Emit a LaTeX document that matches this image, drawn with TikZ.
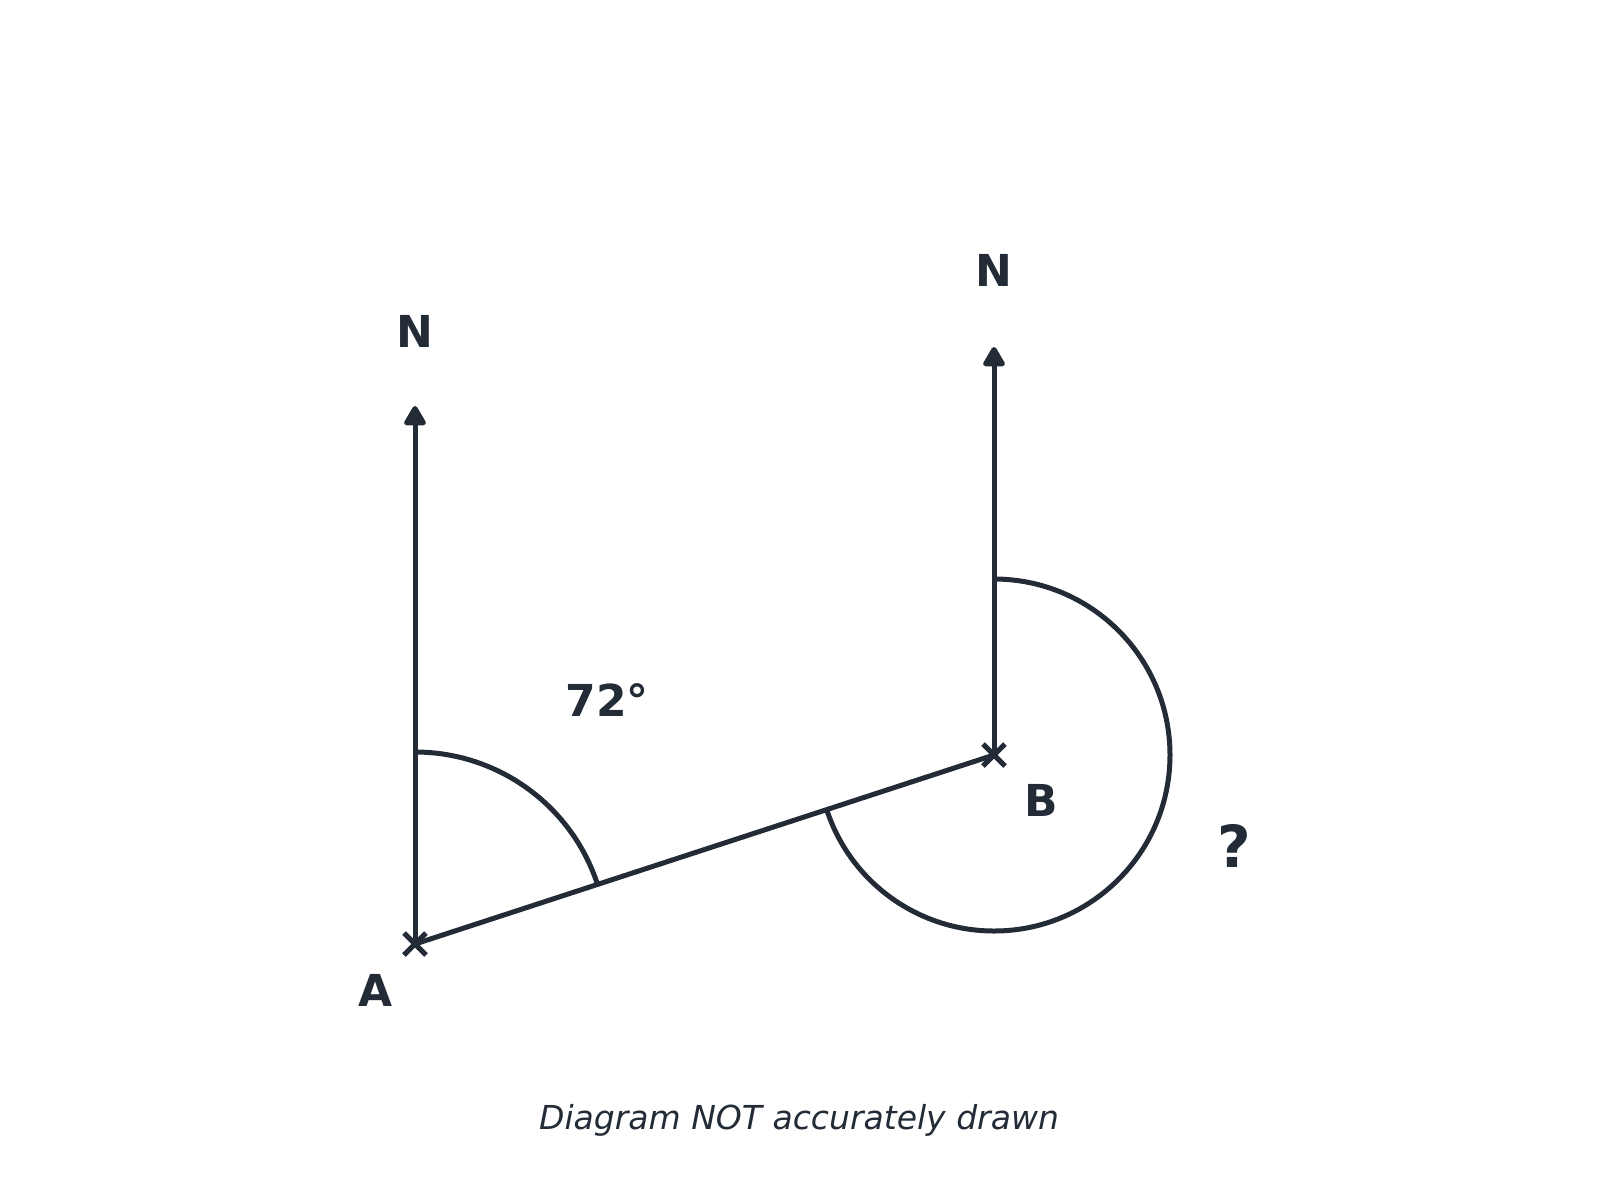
\documentclass[tikz,border=0pt]{standalone}
\usepackage{fontspec}
\setmainfont{DejaVu Sans}
\usetikzlibrary{arrows.meta,calc}
\definecolor{ink}{RGB}{34,43,54}
\begin{document}
\begin{tikzpicture}[x=0.5pt,y=-0.5pt,
  line/.style={draw=ink,line width=2.5pt},
  northarrow/.style={line,-{Triangle[length=11pt,width=12pt,round]}},
  lbl/.style={text=ink,font=\bfseries\fontsize{22}{26}\selectfont,inner sep=0pt},
  cross/.style={line,line cap=butt}]
\useasboundingbox (0,0) rectangle (1600,1200);
\coordinate (A) at (415,944);
\coordinate (B) at (994,755);
\coordinate (NA) at (415,406);
\coordinate (NB) at (994,347);
% north lines
\draw[northarrow] (A) -- (NA);
\draw[northarrow] (B) -- (NB);
% bearing line
\draw[line] (A) -- (B);
% crosses
\draw[cross] ($(A)+(-11,-11)$) -- ($(A)+(11,11)$) ($(A)+(-11,11)$) -- ($(A)+(11,-11)$);
\draw[cross] ($(B)+(-11,-11)$) -- ($(B)+(11,11)$) ($(B)+(-11,11)$) -- ($(B)+(11,-11)$);
% angle arcs
\draw[line] (415,752) arc[start angle=-90,end angle=-18,radius=192];
\draw[line] (994,579) arc[start angle=-90,end angle=162,radius=176];
% labels
\node[lbl] (nA) at (415,331) {N};
\node[lbl] (nB) at (994,270) {N};
\node[lbl] (lA) at (376,990) {A};
\node[lbl] (lB) at (1041,800) {B};
\node[lbl] (ang) at (607,700) {72°};
\node[lbl,font=\bfseries\fontsize{29}{34}\selectfont] (q) at (1234,846) {?};
\node[text=ink,inner sep=0pt,font=\itshape\fontsize{16.5}{20}\selectfont] (cap) at (799,1120) {Diagram NOT accurately drawn};
\end{tikzpicture}
\end{document}
